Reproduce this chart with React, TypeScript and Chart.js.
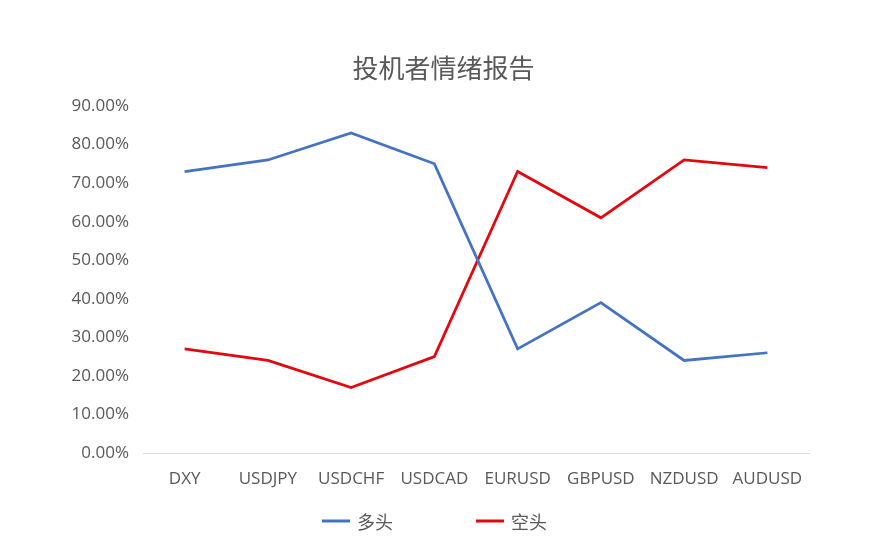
import React, { useEffect, useRef } from "react";
import { Chart, registerables } from "chart.js";

Chart.register(...registerables);

const title = "投机者情绪报告";
const categories = ["DXY", "USDJPY", "USDCHF", "USDCAD", "EURUSD", "GBPUSD", "NZDUSD", "AUDUSD"];
const longSeriesName = "多头";
const shortSeriesName = "空头";
const longValues = [73, 76, 83, 75, 27, 39, 24, 26];
const shortValues = [27, 24, 17, 25, 73, 61, 76, 74];
const yMin = 0;
const yMax = 90;
const yStep = 10;

const FONT = "'Open Sans', 'Noto Sans CJK SC', sans-serif";
const CJK = "'Noto Sans CJK SC', sans-serif";
const TEXT = "#595959";

const decorPlugin = {
  id: "decor",
  afterDraw(chart: any) {
    const ctx = chart.ctx;
    ctx.save();
    ctx.fillStyle = TEXT;
    ctx.font = `26px ${CJK}`;
    ctx.textAlign = "center";
    ctx.textBaseline = "middle";
    ctx.fillText(title, chart.width / 2, 68);
    const items = chart.data.datasets.map((ds: any) => ({ text: ds.label, color: ds.borderColor }));
    const starts = [322, 476];
    ctx.font = `18px ${CJK}`;
    ctx.textAlign = "left";
    items.forEach((it: any, i: number) => {
      const x = starts[i];
      const y = 521;
      ctx.strokeStyle = it.color;
      ctx.lineWidth = 3;
      ctx.beginPath();
      ctx.moveTo(x, y);
      ctx.lineTo(x + 28, y);
      ctx.stroke();
      ctx.fillStyle = TEXT;
      ctx.fillText(it.text, x + 35, y + 1);
    });
    ctx.restore();
  },
};

export default function App() {
  const ref = useRef<HTMLCanvasElement | null>(null);

  useEffect(() => {
    document.body.style.margin = "0";
    const canvas = ref.current;
    if (!canvas) return;
    const chart = new Chart(canvas, {
      type: "line",
      data: {
        labels: categories,
        datasets: [
          {
            label: longSeriesName,
            data: longValues,
            borderColor: "#4472C4",
            backgroundColor: "#4472C4",
            borderWidth: 2.75,
            pointRadius: 0,
            tension: 0,
          },
          {
            label: shortSeriesName,
            data: shortValues,
            borderColor: "#E3070F",
            backgroundColor: "#E3070F",
            borderWidth: 2.75,
            pointRadius: 0,
            tension: 0,
          },
        ],
      },
      plugins: [decorPlugin],
      options: {
        responsive: false,
        animation: false,
        layout: { padding: { left: 0, right: 78, top: 106, bottom: 59 } },
        plugins: {
          title: { display: false },
          legend: { display: false },
          tooltip: { enabled: false },
        },
        scales: {
          x: {
            offset: true,
            grid: { display: false, drawTicks: false },
            border: { display: true, color: "#D9D9D9", width: 1 },
            ticks: {
              color: TEXT,
              font: { family: FONT, size: 17 },
              padding: 16,
              maxRotation: 0,
              autoSkip: false,
            },
            afterFit: (s: any) => {
              s.height = 48;
            },
          },
          y: {
            min: yMin,
            max: yMax,
            grid: { display: false, drawTicks: false },
            border: { display: false },
            ticks: {
              stepSize: yStep,
              color: TEXT,
              font: { family: FONT, size: 17 },
              padding: 14,
              callback: (v: any) => Number(v).toFixed(2) + "%",
            },
            afterFit: (s: any) => {
              s.width = 143;
            },
          },
        },
      },
    });
    return () => chart.destroy();
  }, []);

  return (
    <div style={{ width: 887, height: 560, background: "#fff" }}>
      <canvas ref={ref} width={887} height={560} style={{ display: "block" }} />
    </div>
  );
}
